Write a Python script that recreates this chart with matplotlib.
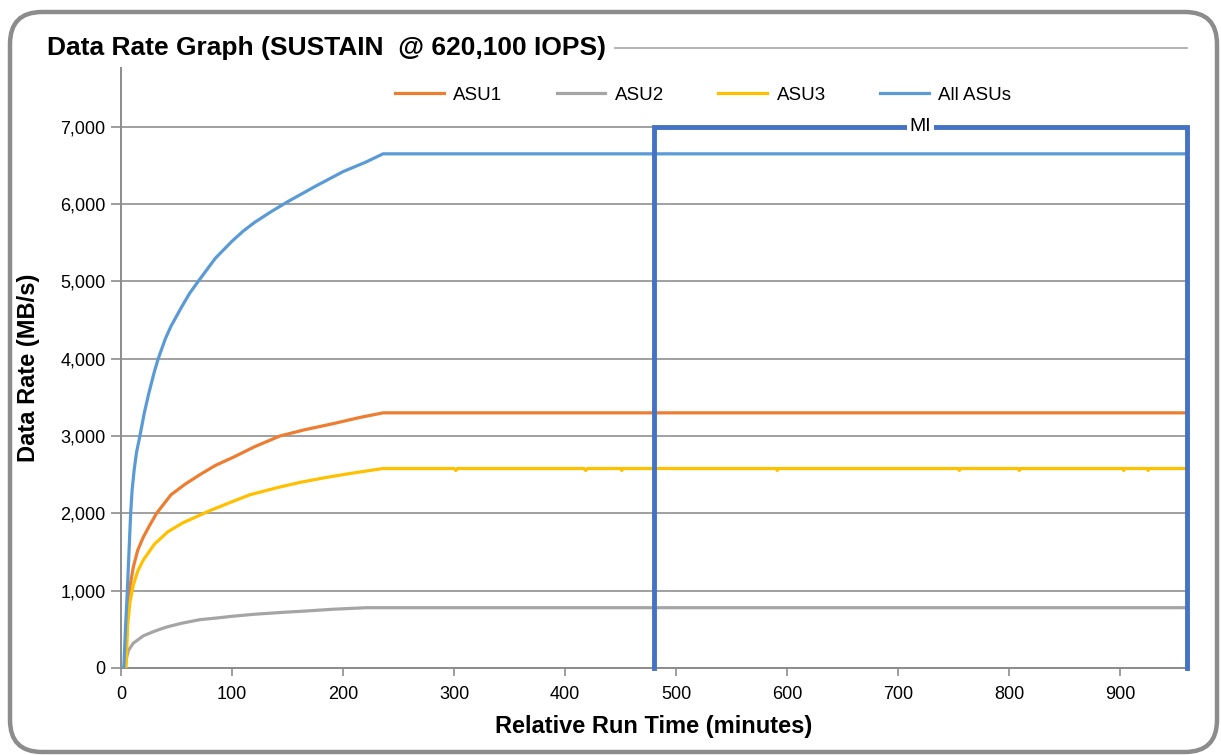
import matplotlib.pyplot as plt
from matplotlib.patches import FancyBboxPatch
from matplotlib.ticker import FuncFormatter

plt.rcParams['font.family'] = ['Liberation Sans', 'DejaVu Sans']

# -------------------- Data --------------------
t_all = [0, 2.5, 4, 5.7, 8.7, 10, 12, 14, 17, 21, 25, 30, 33.5, 40, 45, 55, 62, 69.5, 85, 100, 110,
         120, 135, 150, 175, 200, 220, 236, 960]
all_asus = [0, 0, 500, 1000, 2000, 2300, 2580, 2790, 3000, 3300, 3550, 3830, 4000, 4260, 4420, 4680,
            4850, 5000, 5300, 5520, 5650, 5760, 5900, 6030, 6230, 6420, 6540, 6650, 6650]

t_asu1 = [0, 3.5, 6, 8, 11, 15, 20, 26, 32, 45, 58, 71, 85, 101, 120, 143, 165, 191, 215, 236, 960]
asu1 = [0, 0, 700, 1050, 1300, 1520, 1690, 1850, 2000, 2240, 2380, 2500, 2620, 2725, 2860, 3000,
        3080, 3160, 3240, 3300, 3300]

t_asu2 = [0, 3.5, 5, 6.6, 11, 20, 30, 41, 55, 71, 85, 101, 120, 146, 170, 191, 221, 236, 960]
asu2 = [0, 0, 130, 225, 320, 415, 475, 530, 580, 625, 645, 670, 695, 720, 740, 760, 780, 780, 780]

t_asu3 = [0, 4.5, 6, 8, 11, 15, 20, 30, 42, 56, 80, 100, 116, 140, 161, 185, 206, 222, 236,
          300, 301.5, 303, 417, 418.5, 420, 450, 451, 452, 590, 591, 592, 754, 755, 756,
          808, 809, 810, 902, 903, 904, 924, 925, 926, 960]
asu3 = [0, 0, 550, 845, 1070, 1250, 1395, 1600, 1760, 1880, 2035, 2150, 2240, 2330, 2400, 2465,
        2515, 2550, 2580,
        2580, 2555, 2580, 2580, 2555, 2580, 2580, 2555, 2580, 2580, 2555, 2580, 2580, 2555, 2580,
        2580, 2555, 2580, 2580, 2555, 2580, 2580, 2555, 2580, 2580]

mi_start, mi_end, mi_level = 480, 960, 7000

colors = {"ASU1": "#ED7D31", "ASU2": "#A5A5A5", "ASU3": "#FFC000", "All ASUs": "#5B9BD5"}

# -------------------- Plot --------------------
fig = plt.figure(figsize=(12.21, 7.55), dpi=100)

# rounded outer frame, drawn in pixel units
bg = fig.add_axes([0, 0, 1, 1])
bg.set_xlim(0, 1221)
bg.set_ylim(0, 755)
bg.axis("off")
bg.add_patch(FancyBboxPatch((10, 3), 1207, 740, boxstyle="round,pad=0,rounding_size=32",
                            fc="white", ec="#8C8C8C", lw=3.2, zorder=0))
bg.text(47, 707, "Data Rate Graph (SUSTAIN  @ 620,100 IOPS)", fontsize=19, fontweight="bold",
        ha="left", va="center")
bg.plot([615, 1187], [707, 707], color="#A6A6A6", lw=1.2)

ax = fig.add_axes([121 / 1221, 87 / 755, 1066 / 1221, 600 / 755])
ax.patch.set_alpha(0)

ax.plot(t_asu1, asu1, color=colors["ASU1"], lw=2.3, label="ASU1", zorder=3)
ax.plot(t_asu2, asu2, color=colors["ASU2"], lw=2.3, label="ASU2", zorder=3)
ax.plot(t_asu3, asu3, color=colors["ASU3"], lw=2.3, label="ASU3", zorder=3)
ax.plot(t_all, all_asus, color=colors["All ASUs"], lw=2.3, label="All ASUs", zorder=3)

# measurement interval bracket
ax.plot([mi_start, mi_start, mi_end, mi_end], [0, mi_level, mi_level, 0],
        color="#4472C4", lw=3.5, zorder=4, solid_joinstyle="miter", clip_on=False)
ax.text((mi_start + mi_end) / 2, mi_level, "MI", ha="center", va="center", fontsize=14,
        zorder=5, bbox=dict(fc="white", ec="none", pad=2))

ax.set_xlim(0, 960)
ax.set_ylim(0, 7760)
ax.set_xticks(range(0, 1000, 100))
ax.set_yticks(range(0, 8000, 1000))
ax.yaxis.set_major_formatter(FuncFormatter(lambda v, p: f"{int(v):,}"))
ax.grid(axis="y", color="#A0A0A0", lw=1.4)
ax.set_axisbelow(True)

for s in ["top", "right"]:
    ax.spines[s].set_visible(False)
for s in ["left", "bottom"]:
    ax.spines[s].set_color("#8C8C8C")
    ax.spines[s].set_linewidth(1.4)
ax.tick_params(axis="both", colors="#8C8C8C", labelcolor="black", labelsize=13, width=1.2)
ax.tick_params(axis="y", length=7, pad=4)
ax.tick_params(axis="x", length=6, pad=7)

ax.set_xlabel("Relative Run Time (minutes)", fontsize=17, fontweight="bold", va="top")
ax.set_ylabel("Data Rate (MB/s)", fontsize=17, fontweight="bold", va="center")
ax.xaxis.set_label_coords(0.5, -0.078)
ax.yaxis.set_label_coords(-0.087, 0.5)

ax.legend(loc="center", bbox_to_anchor=(0.546, 0.955), ncol=4, frameon=False, fontsize=13.5,
          handlelength=2.6, handletextpad=0.5, columnspacing=2.9)

fig.savefig("out.png", dpi=100)
plt.close(fig)
